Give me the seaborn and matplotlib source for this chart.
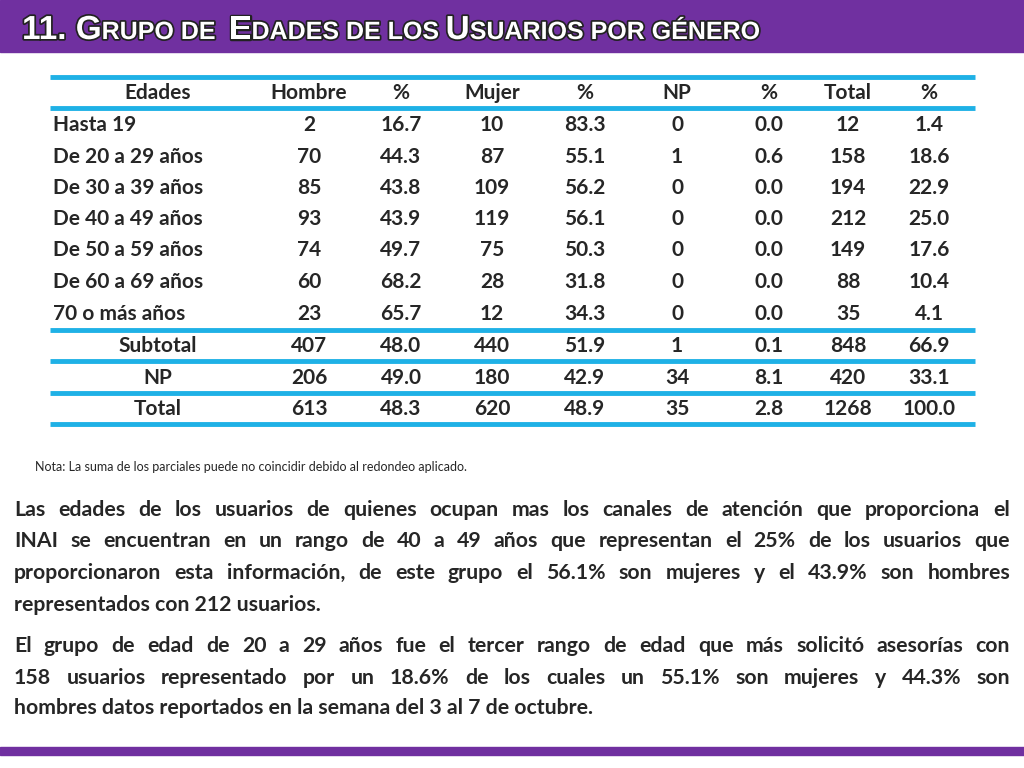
import matplotlib
matplotlib.use("Agg")
import matplotlib.pyplot as plt
import seaborn as sns
import matplotlib.patheffects as pe

sns.set_theme(style="white")

edades = ["Hasta 19", "De 20 a 29 años", "De 30 a 39 años", "De 40 a 49 años",
          "De 50 a 59 años", "De 60 a 69 años", "70 o más años", "Subtotal", "NP", "Total"]
hombre = [2, 70, 85, 93, 74, 60, 23, 407, 206, 613]
pct_h = ["16.7", "44.3", "43.8", "43.9", "49.7", "68.2", "65.7", "48.0", "49.0", "48.3"]
mujer = [10, 87, 109, 119, 75, 28, 12, 440, 180, 620]
pct_m = ["83.3", "55.1", "56.2", "56.1", "50.3", "31.8", "34.3", "51.9", "42.9", "48.9"]
np_ = [0, 1, 0, 0, 0, 0, 0, 1, 34, 35]
pct_np = ["0.0", "0.6", "0.0", "0.0", "0.0", "0.0", "0.0", "0.1", "8.1", "2.8"]
total = [12, 158, 194, 212, 149, 88, 35, 848, 420, 1268]
pct_t = ["1.4", "18.6", "22.9", "25.0", "17.6", "10.4", "4.1", "66.9", "33.1", "100.0"]
headers = ["Edades", "Hombre", "%", "Mujer", "%", "NP", "%", "Total", "%"]

para1 = ["Las edades de los usuarios de quienes ocupan mas los canales de atención que proporciona el",
         "INAI se encuentran en un rango de 40 a 49 años que representan el 25% de los usuarios que",
         "proporcionaron esta información, de este grupo el 56.1% son mujeres y el 43.9% son hombres",
         "representados con 212 usuarios."]
para2 = ["El grupo de edad de 20 a 29 años fue el tercer rango de edad que más solicitó asesorías con",
         "158 usuarios representado por un 18.6% de los cuales un 55.1%  son mujeres y 44.3% son",
         "hombres datos reportados en la semana del 3 al  7 de octubre."]

fig = plt.figure(figsize=(10.24, 7.68), dpi=100)
ax = fig.add_axes([0, 0, 1, 1])
ax.set_xlim(0, 1024); ax.set_ylim(768, 0); ax.axis("off")

PURPLE = "#7030A0"; BLUE = "#1FB1E6"
ax.add_patch(plt.Rectangle((0, 0), 1024, 52, color=PURPLE))
ax.add_patch(plt.Rectangle((0, 747), 1024, 8, color=PURPLE))

shadow = [pe.withStroke(linewidth=2.5, foreground="#222222")]
segs = [("11. G", 24), ("RUPO DE  ", 18), ("E", 24), ("DADES DE LOS ", 18), ("U", 24),
        ("SUARIOS POR GÉNERO", 18)]
fig.canvas.draw()
r = fig.canvas.get_renderer()
x = 22
for s, fs in segs:
    t = ax.text(x, 39, s, fontsize=fs, color="white", fontweight="bold", family="Liberation Sans",
                va="baseline", ha="left", path_effects=shadow)
    bb = t.get_window_extent(renderer=r)
    x += bb.width

FONT = "Lato"
TFS = 15
cols_x = [158, 309, 401, 492, 585, 677, 769, 848, 929]
for cx, h in zip(cols_x, headers):
    ax.text(cx, 93, h, ha="center", va="center", fontsize=TFS, fontweight="bold", family=FONT)
row_y = [125, 157, 188, 219, 250, 282, 314, 346, 378, 409]
for i, y in enumerate(row_y):
    if i < 7:
        ax.text(53, y, edades[i], ha="left", va="center", fontsize=TFS, fontweight="bold", family=FONT)
    else:
        ax.text(cols_x[0], y, edades[i], ha="center", va="center", fontsize=TFS, fontweight="bold", family=FONT)
    vals = [hombre[i], pct_h[i], mujer[i], pct_m[i], np_[i], pct_np[i], total[i], pct_t[i]]
    for cx, v in zip(cols_x[1:], vals):
        ax.text(cx, y, str(v), ha="center", va="center", fontsize=TFS, fontweight="bold", family=FONT)
for ly in [77, 108, 330, 361, 393, 424]:
    ax.plot([50, 975], [ly, ly], color=BLUE, lw=3.5, solid_capstyle="butt")

ax.text(35, 467, "Nota: La suma de los parciales puede no coincidir debido al redondeo aplicado.",
        fontsize=9, family=FONT, va="center", ha="left")

fig.canvas.draw()
r = fig.canvas.get_renderer()
def draw_para(lines, ys, left=14, right=1010, fs=15.3):
    for j, (line, y) in enumerate(zip(lines, ys)):
        words = line.split()
        if j == len(lines) - 1:
            ax.text(left, y, " ".join(words), fontsize=fs, fontweight="bold", family=FONT, va="center")
            continue
        ts = [ax.text(0, y, w, fontsize=fs, fontweight="bold", family=FONT, va="center") for w in words]
        widths = [t.get_window_extent(renderer=r).width for t in ts]
        gap = (right - left - sum(widths)) / (len(words) - 1)
        xx = left
        for t, w in zip(ts, widths):
            t.set_x(xx); xx += w + gap

draw_para(para1, [510, 541, 573, 605])
draw_para(para2, [646, 678, 708])

fig.savefig("out.png", dpi=100)
